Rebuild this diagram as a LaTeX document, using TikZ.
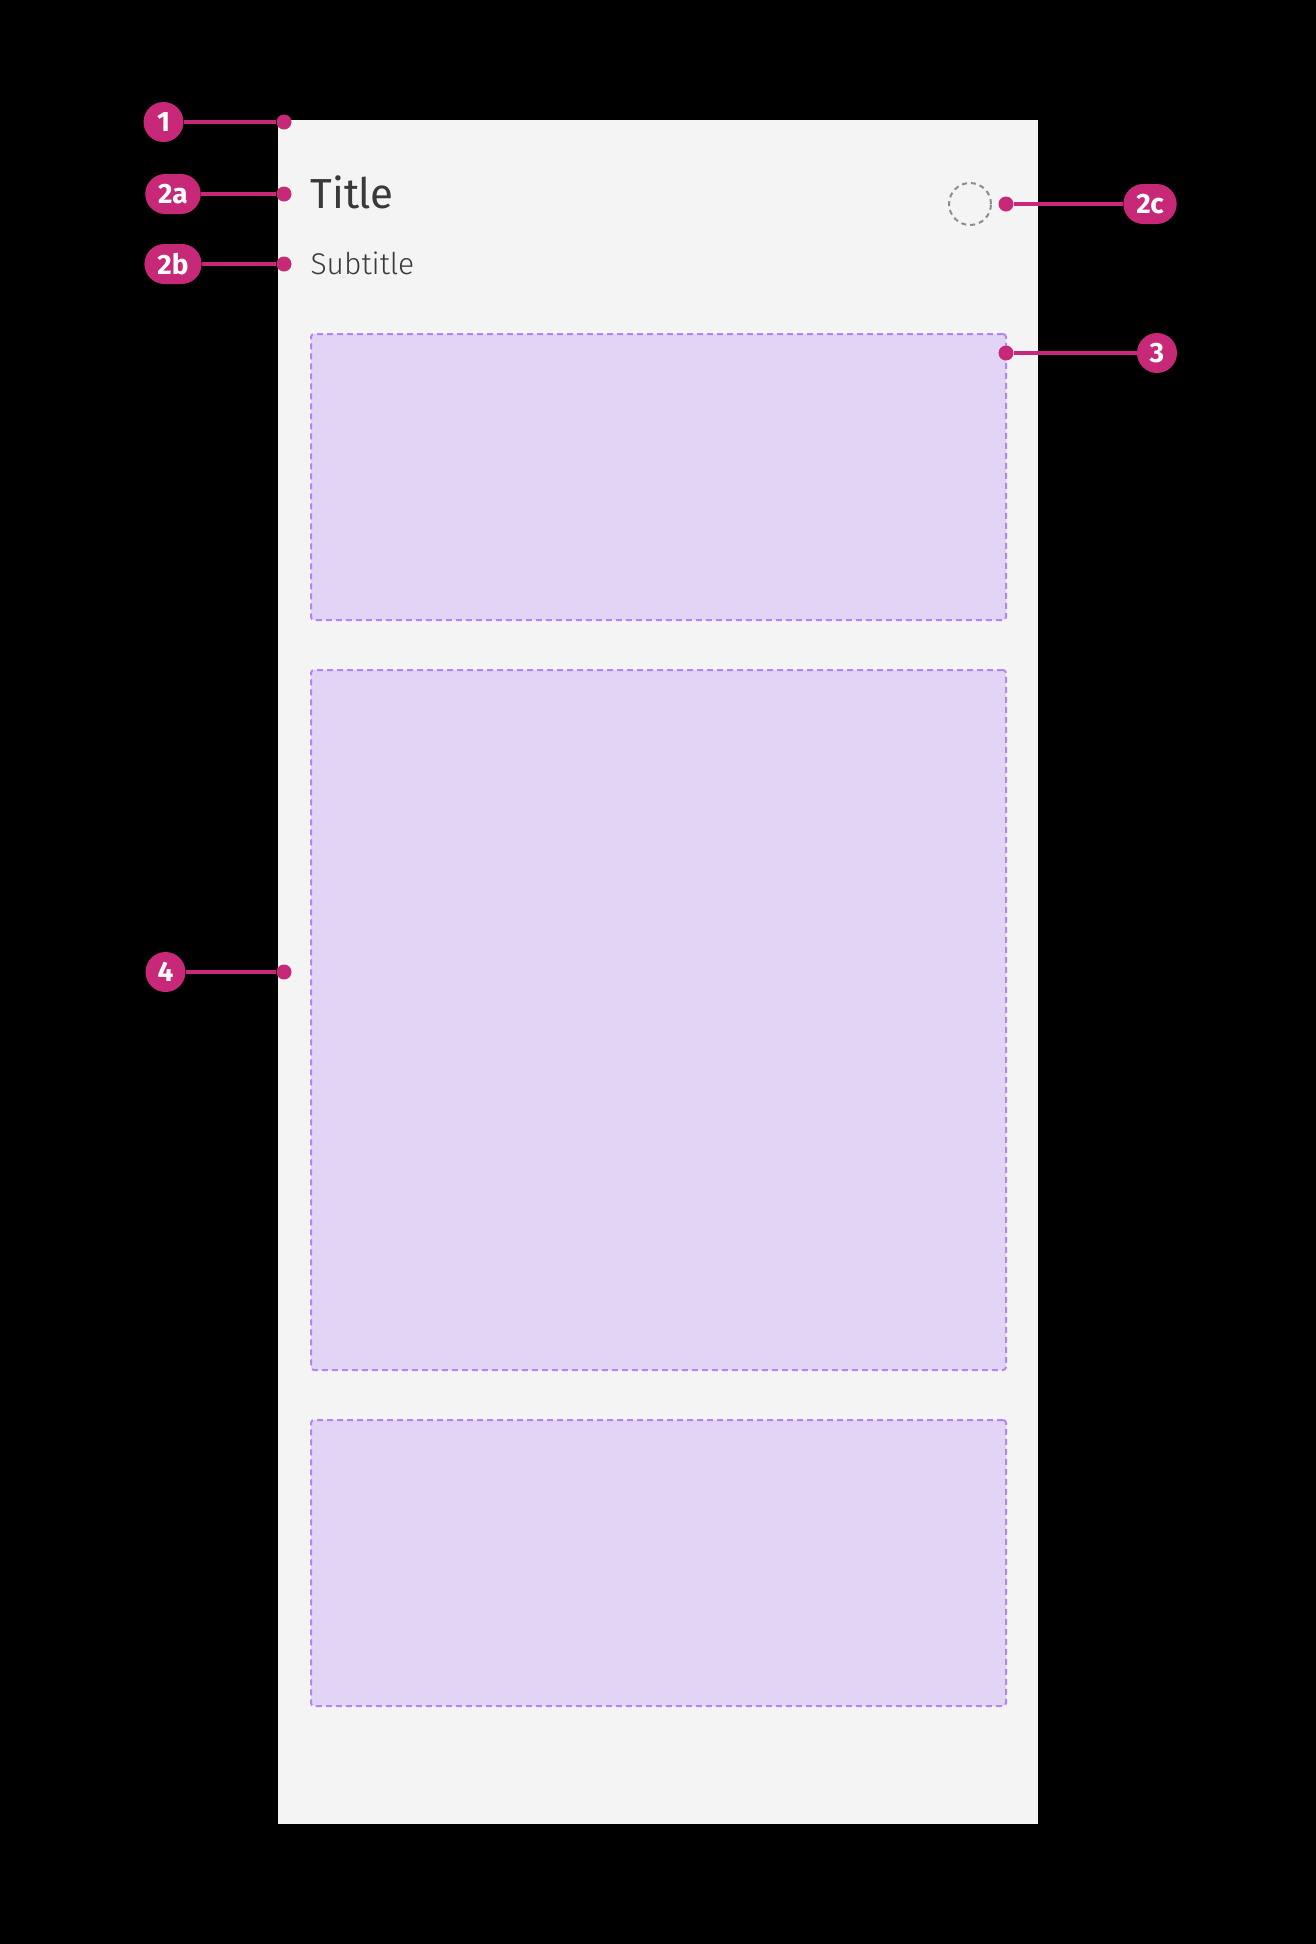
\documentclass[tikz,border=0pt]{standalone}
\usepackage{fontspec}
\setmainfont{Fira Sans}
\newfontfamily\lightfont{Fira Sans Light}
\usetikzlibrary{positioning}
\definecolor{panelgray}{RGB}{244,244,244}
\definecolor{slotfill}{RGB}{226,212,244}
\definecolor{slotline}{RGB}{178,132,246}
\definecolor{callout}{RGB}{200,40,120}
\definecolor{textgray}{RGB}{57,57,57}
\definecolor{ringgray}{RGB}{141,141,141}
\tikzset{
  badge/.style={fill=callout,text=white,font=\fontsize{28}{28}\selectfont\bfseries},
  roundbadge/.style={badge,circle,minimum size=40pt,inner sep=0pt},
  pillbadge/.style={badge,rounded corners=20pt,minimum height=40pt,inner xsep=13pt,inner ysep=0pt},
  pin/.style={circle,fill=callout,minimum size=15pt,inner sep=0pt},
  leader/.style={callout,line width=3.2pt},
  slot/.style={fill=slotfill,draw=slotline,line width=2pt,dash pattern=on 6pt off 4pt,rounded corners=3pt,anchor=north west,minimum width=695pt,inner sep=0pt},
}

\begin{document}
\begin{tikzpicture}[x=1pt,y=-1pt]
  \fill[black] (0,0) rectangle (1316,1944);
  \useasboundingbox (0,0) rectangle (1316,1944);
  \fill[panelgray] (278,120) rectangle (1038,1824);

  \node[anchor=base west,text=textgray,font=\fontsize{42}{42}\selectfont] (title) at (307,208) {Title};
  \node[anchor=base west,text=textgray,font=\fontsize{30}{30}\selectfont\lightfont] (subtitle) at (307,274) {Subtitle};
  \node[circle,draw=ringgray,line width=2pt,dash pattern=on 5pt off 4pt,minimum size=42pt,inner sep=0pt] (icon) at (970,204) {};

  \node[slot,minimum height=286pt] (header) at (310,333) {};
  \node[slot,minimum height=700pt] (body) at (310,669) {};
  \node[slot,minimum height=286pt] (footer) at (310,1419) {};

  \node[pin] (p1) at (284,122) {};
  \node[pin] (p2a) at (284,194) {};
  \node[pin] (p2b) at (284,264) {};
  \node[pin] (p2c) at (1006,204) {};
  \node[pin] (p3) at (1006,353) {};
  \node[pin] (p4) at (284,972) {};

  \node[roundbadge] (b1) at (163.5,122) {1};
  \node[pillbadge] (b2a) at (173,194) {2a};
  \node[pillbadge] (b2b) at (173,264) {2b};
  \node[pillbadge] (b2c) at (1150,204) {2c};
  \node[roundbadge] (b3) at (1157,353) {3};
  \node[roundbadge] (b4) at (165.5,972) {4};

  \draw[leader] (b1) -- (p1);
  \draw[leader] (b2a) -- (p2a);
  \draw[leader] (b2b) -- (p2b);
  \draw[leader] (b2c) -- (p2c);
  \draw[leader] (b3) -- (p3);
  \draw[leader] (b4) -- (p4);
\end{tikzpicture}
\end{document}
